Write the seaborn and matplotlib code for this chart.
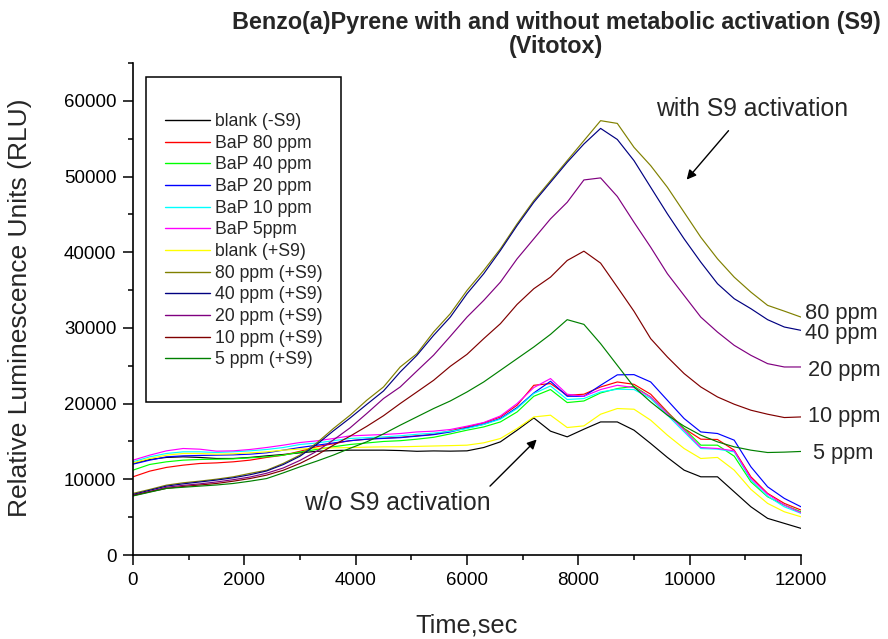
import matplotlib
matplotlib.use("Agg")
import matplotlib.pyplot as plt
import numpy as np
import pandas as pd
import seaborn as sns
from matplotlib.patches import Rectangle
from matplotlib.ticker import MultipleLocator

# ---------------- data ----------------
time_sec = [0, 300, 600, 900, 1200, 1500, 1800, 2100, 2400, 2700,
            3000, 3300, 3600, 3900, 4200, 4500, 4800, 5100, 5400, 5700,
            6000, 6300, 6600, 6900, 7200, 7500, 7800, 8100, 8400, 8700,
            9000, 9300, 9600, 9900, 10200, 10500, 10800, 11100, 11400, 11700,
            12000]

blank_noS9 = [12090, 12620, 12890, 12970, 12890, 12750, 12750, 12890, 13100, 13280,
              13500, 13700, 13800, 13850, 13850, 13850, 13800, 13700, 13750, 13720,
              13760, 14200, 14950, 16490, 18110, 16360, 15610, 16620, 17580, 17580,
              16490, 14730, 12890, 11210, 10330, 10330, 8350, 6370, 4840, 4180,
              3520]
bap80 = [10330, 11080, 11570, 11870, 12090, 12170, 12310, 12530, 12890, 13190,
         13700, 14300, 14700, 15100, 15300, 15450, 15550, 15750, 15950, 16400,
         16920, 17450, 18240, 19790, 22420, 22650, 21100, 21240, 22200, 22860,
         22550, 21240, 18900, 16710, 15300, 15260, 13850, 10330, 8140, 6820,
         5940]
bap40 = [11210, 11960, 12310, 12530, 12620, 12660, 12700, 12840, 12970, 13190,
         13600, 13950, 14300, 14600, 14800, 15000, 15100, 15300, 15550, 16000,
         16490, 16920, 17580, 18900, 20970, 21860, 20140, 20350, 21410, 21990,
         22290, 20880, 18770, 16710, 14510, 14510, 13060, 9670, 7690, 6600,
         5710]
bap20 = [12000, 12530, 12970, 13100, 13150, 13190, 13230, 13320, 13500, 13850,
         14200, 14500, 14800, 15100, 15300, 15400, 15500, 15700, 15900, 16250,
         16790, 17280, 18030, 19480, 21410, 22950, 20970, 20970, 22420, 23800,
         23830, 22860, 20440, 18030, 16260, 16050, 15170, 11650, 9010, 7480,
         6370]
bap10 = [12310, 12970, 13410, 13630, 13630, 13540, 13630, 13760, 13940, 14200,
         14600, 14800, 15100, 15400, 15500, 15600, 15750, 15950, 16100, 16350,
         16710, 17240, 17940, 19350, 21330, 22330, 20540, 20670, 21540, 21900,
         21860, 20670, 18470, 16260, 14070, 13980, 13630, 9890, 7780, 6370,
         5500]
bap5 = [12530, 13190, 13760, 14070, 13980, 13720, 13760, 13940, 14200, 14510,
        14860, 15080, 15390, 15740, 15830, 15920, 16050, 16260, 16360, 16580,
        17020, 17500, 18370, 20010, 22120, 23310, 21240, 20970, 21860, 22420,
        22120, 20880, 18690, 16490, 14200, 14070, 13760, 10120, 8050, 6600,
        5580]
blank_S9 = [12170, 12750, 13190, 13410, 13410, 13320, 13370, 13500, 13630, 13850,
            14000, 14100, 14150, 14200, 14250, 14290, 14300, 14350, 14400, 14450,
            14510, 14820, 15390, 16710, 18240, 18470, 16840, 17060, 18600, 19350,
            19260, 17810, 15830, 14070, 12750, 12890, 11210, 8670, 6820, 5710,
            5050]
s9_80 = [8140, 8660, 9230, 9540, 9760, 10020, 10330, 10780, 11200, 12100,
         13200, 14800, 16710, 18470, 20450, 22200, 24840, 26600, 29460, 31880,
         34950, 37590, 40450, 43750, 46820, 49460, 52100, 54740, 57380, 57020,
         53860, 51440, 48580, 45280, 41980, 39130, 36710, 34730, 32980, 32220,
         31430]
s9_40 = [8000, 8550, 9100, 9400, 9650, 9900, 10200, 10600, 11100, 11950,
         13050, 14600, 16400, 18100, 19900, 21670, 24180, 26380, 29020, 31430,
         34520, 37160, 40230, 43530, 46600, 49240, 51880, 54300, 56360, 54900,
         52100, 48580, 45070, 41770, 38690, 35840, 33860, 32540, 31090, 30120,
         29680]
s9_20 = [7900, 8400, 8950, 9200, 9400, 9650, 9950, 10300, 10800, 11500,
         12500, 13700, 15200, 16800, 18700, 20670, 22200, 24310, 26400, 28890,
         31430, 33630, 36050, 39130, 41770, 44410, 46600, 49550, 49820, 47370,
         43960, 40660, 37160, 34290, 31430, 29450, 27700, 26380, 25280, 24840,
         24840]
s9_10 = [7850, 8350, 8800, 9050, 9250, 9450, 9750, 10100, 10550, 11200,
         12100, 13200, 14500, 15700, 17000, 18400, 20010, 21540, 23080, 24930,
         26510, 28580, 30560, 33110, 35180, 36710, 38910, 40140, 38560, 35400,
         32200, 28580, 26160, 23970, 22200, 20880, 19920, 19130, 18600, 18160,
         18240]
s9_5 = [7800, 8300, 8800, 8950, 9100, 9250, 9450, 9750, 10100, 10850,
        11650, 12400, 13200, 14100, 14950, 16000, 17150, 18250, 19350, 20350,
        21540, 22860, 24400, 25940, 27480, 29150, 31090, 30470, 27920, 25060,
        22200, 20220, 18470, 17020, 15830, 14950, 14290, 13850, 13540, 13590,
        13680]

series_names = ["blank (-S9)", "BaP 80 ppm", "BaP 40 ppm", "BaP 20 ppm", "BaP 10 ppm",
                "BaP 5ppm", "blank (+S9)", "80 ppm (+S9)", "40 ppm (+S9)",
                "20 ppm (+S9)", "10 ppm (+S9)", "5 ppm (+S9)"]
series_values = [blank_noS9, bap80, bap40, bap20, bap10, bap5, blank_S9,
                 s9_80, s9_40, s9_20, s9_10, s9_5]
series_colors = ["#000000", "#FF0000", "#00FF00", "#0000FF", "#00FFFF", "#FF00FF",
                 "#FFFF00", "#808000", "#000080", "#800080", "#800000", "#008000"]

end_labels = ["80 ppm", "40 ppm", "20 ppm", "10 ppm", "5 ppm"]

# ---------------- figure ----------------
sns.set_style("ticks")
plt.rcParams['font.family'] = ['Liberation Sans', 'DejaVu Sans']

W, H = 888, 639
fig = plt.figure(figsize=(W / 100, H / 100), dpi=100)

def fx(px):
    return px / W

def fy(py):
    return 1 - py / H

ax = fig.add_axes([fx(133), fy(555), fx(801) - fx(133), fy(63) - fy(555)])

rows = []
for name, vals in zip(series_names, series_values):
    for t, v in zip(time_sec, vals):
        rows.append((name, t, v))
df = pd.DataFrame(rows, columns=["series", "Time", "RLU"])

sns.lineplot(data=df, x="Time", y="RLU", hue="series", hue_order=series_names,
             palette=dict(zip(series_names, series_colors)), estimator=None,
             linewidth=0.85, ax=ax, legend=True)

ax.set_xlim(0, 12000)
ax.set_ylim(0, 65000)
ax.xaxis.set_major_locator(MultipleLocator(2000))
ax.xaxis.set_minor_locator(MultipleLocator(1000))
ax.set_yticks(list(range(0, 60001, 10000)))
ax.yaxis.set_minor_locator(MultipleLocator(5000))
sns.despine(ax=ax)
for s in ("left", "bottom"):
    ax.spines[s].set_linewidth(1.2)
    ax.spines[s].set_color("black")
ax.tick_params(which="major", direction="out", length=7, width=1.1,
               labelsize=13.5, pad=5, colors="black")
ax.tick_params(which="minor", direction="out", length=3.5, width=1.1, colors="black")
ax.set_xlabel("")
ax.set_ylabel("")

# legend
handles, labels = ax.get_legend_handles_labels()
for h in handles:
    h.set_linewidth(1.0)
ax.legend(handles, labels, loc="upper left",
          bbox_to_anchor=(fx(165), fy(113)), bbox_transform=fig.transFigure,
          frameon=False, fontsize=12.7, handlelength=2.55, handletextpad=0.3,
          labelspacing=0.265, borderpad=0, borderaxespad=0)
fig.patches.append(Rectangle((fx(145.7), fy(401.7)), fx(341) - fx(145.7),
                             fy(76.7) - fy(401.7), transform=fig.transFigure,
                             fill=False, lw=1.1, ec="black"))

# titles and axis labels
fig.text(fx(556), fy(22), "Benzo(a)Pyrene with and without metabolic activation (S9)",
         ha="center", va="center", fontsize=16.8, fontweight="bold")
fig.text(fx(556), fy(47), "(Vitotox)",
         ha="center", va="center", fontsize=16.8, fontweight="bold")
fig.text(fx(20), fy(308), "Relative Luminescence Units (RLU)", rotation=90,
         ha="center", va="center", fontsize=19)
fig.text(fx(467), fy(625), "Time,sec", ha="center", va="center", fontsize=18.3)

# annotations
ax.annotate("", xy=(9946, 49590), xytext=(10698, 56060),
            arrowprops=dict(arrowstyle="-|>", color="black", lw=1.0,
                            mutation_scale=14, shrinkA=0, shrinkB=0))
ax.text(11128, 58960, "with S9 activation", ha="center", va="center",
        fontsize=17.8, clip_on=False)
ax.annotate("", xy=(7252, 15260), xytext=(6413, 9100),
            arrowprops=dict(arrowstyle="-|>", color="black", lw=1.0,
                            mutation_scale=14, shrinkA=0, shrinkB=0))
ax.text(4742, 6900, "w/o S9 activation", ha="center", va="center",
        fontsize=17.8, clip_on=False)

end_x = [12071, 12071, 12130, 12130, 12210]
end_y = [31880, 29240, 24400, 18240, 13410]
for lab, xx, yy in zip(end_labels, end_x, end_y):
    ax.text(xx, yy, lab, ha="left", va="center", fontsize=15.7, clip_on=False)

fig.savefig("out.png", dpi=100)
